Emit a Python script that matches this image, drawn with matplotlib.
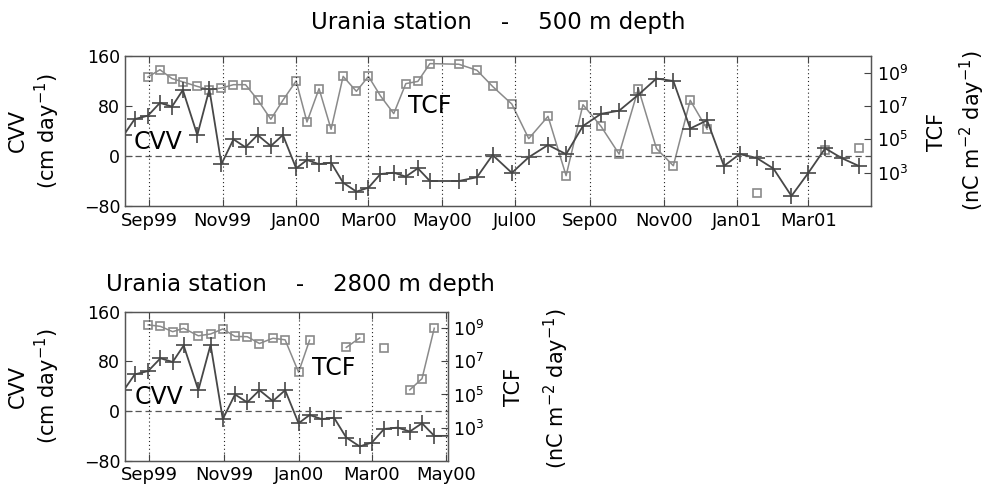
import numpy as np
import matplotlib
matplotlib.use("Agg")
import matplotlib.pyplot as plt
import matplotlib.dates as mdates
from datetime import datetime

# ---------------- data ----------------
dates = ["1999-08-11", "1999-08-20", "1999-08-31", "1999-09-10", "1999-09-20",
         "1999-09-29", "1999-10-11", "1999-10-21", "1999-10-31", "1999-11-10",
         "1999-11-20", "1999-11-30", "1999-12-11", "1999-12-21", "2000-01-01",
         "2000-01-10", "2000-01-20", "2000-01-30", "2000-02-09", "2000-02-20",
         "2000-03-01", "2000-03-11", "2000-03-22", "2000-04-01", "2000-04-11",
         "2000-04-21", "2000-05-15", "2000-05-30", "2000-06-12", "2000-06-28",
         "2000-07-12", "2000-07-28", "2000-08-12", "2000-08-26", "2000-09-10",
         "2000-09-25", "2000-10-11", "2000-10-26", "2000-11-09", "2000-11-23",
         "2000-12-07", "2000-12-21", "2001-01-03", "2001-01-17", "2001-01-31",
         "2001-02-15", "2001-03-01", "2001-03-15", "2001-03-29", "2001-04-12"]

cvv = [33.6, 59, 64.5, 85, 79, 105.6, 33.6, 106.7, -13, 26.7,
       14, 33.6, 16, 33.6, -19.7, -6.4, -13, -10.7, -42.7, -57,
       -50.7, -28.8, -26.7, -33, -19.7, -40, -40, -34, 1.6, -27,
       -2, 17.6, 3, 48, 67.5, 72.5, 98, 124, 120, 44,
       57, -16, 3, -3, -20, -64, -27, 12.3, -3.7, -16]

nan = float("nan")
tcf_500 = [nan, nan, 5.5e8, 1.5e9, 4.4e8, 2.8e8, 1.5e8, 9.5e7, 1.2e8, 1.9e8,
           1.9e8, 2.4e7, 1.6e6, 2.2e7, 3.2e8, 1.1e6, 1.1e8, 4.0e5, 6.0e8, 7.6e7,
           6.0e8, 4.0e7, 3.5e6, 2.2e8, 3.0e8, 3.5e9, 3.2e9, 1.4e9, 1.5e8, 1.3e7,
           1.1e5, 2.4e6, 6.6e2, 1.2e7, 6.0e5, 1.3e4, 1.1e8, 2.8e4, 2.6e3, 2.2e7,
           4.1e5, nan, nan, 63, nan, nan, nan, 2.2e4, nan, 3.2e4]

tcf_2800 = [nan, nan, 1.6e9, 1.3e9, 6.2e8, 1.0e9, 3.5e8, 4.5e8, 9.1e8, 3.2e8,
            3.1e8, 1.2e8, 2.5e8, 2.0e8, 2.2e6, 1.9e8, nan, nan, 6.9e7, 2.6e8,
            nan, 6.2e7, nan, 1.9e5, 9.1e5, 1.0e9, nan, nan, nan, nan,
            nan, nan, nan, nan, nan, nan, nan, nan, nan, nan,
            nan, nan, nan, nan, nan, nan, nan, nan, nan, nan]

cvv_ticks = [-80, 0, 80, 160]
tcf_ticks = [1e3, 1e5, 1e7, 1e9]
title_top = "Urania station    -    500 m depth"
title_bot = "Urania station    -    2800 m depth"

x = [datetime.strptime(d, "%Y-%m-%d") for d in dates]

# ---------------- figure ----------------
W, H = 990, 495
fig = plt.figure(figsize=(W / 100, H / 100), dpi=100)

def px_rect(l, t, r, b):
    return [l / W, 1 - b / H, (r - l) / W, (b - t) / H]

CVV_COL = "#474747"
TCF_COL = "#8a8a8a"


def make_panel(rect, xlim, tcf, cvv_lab_pos, tcf_lab_pos):
    ax = fig.add_axes(rect)
    tw = ax.twinx()
    ax.set_zorder(tw.get_zorder() + 1)
    ax.patch.set_visible(False)

    tw.plot(x, tcf, color=TCF_COL, lw=1.1, marker="s", ms=5.5,
            mfc="none", mec=TCF_COL, mew=1.2)
    ax.plot(x, cvv, color=CVV_COL, lw=1.3, marker="+", ms=11, mew=1.2)
    ax.axhline(0, color="#555555", lw=0.9, ls=(0, (5, 3)))

    ax.set_xlim(*xlim)
    ax.set_ylim(-80, 160)
    ax.set_yticks(cvv_ticks)
    tw.set_yscale("log")
    tw.set_ylim(1e1, 1e10)
    tw.set_yticks(tcf_ticks)
    tw.yaxis.set_minor_locator(matplotlib.ticker.NullLocator())

    ax.xaxis.set_major_locator(mdates.MonthLocator(bymonth=[1, 3, 5, 7, 9, 11]))
    ax.xaxis.set_major_formatter(mdates.DateFormatter("%b%y"))
    ax.grid(axis="x", color="#222222", ls=(0, (1, 2.5)), lw=0.8)

    ax.tick_params(axis="x", direction="in", top=True, length=5,
                   labelsize=13, pad=4, color="#444444")
    ax.tick_params(axis="y", direction="in", length=5, labelsize=12.5,
                   right=False, color="#444444")
    tw.tick_params(axis="y", direction="in", length=5, labelsize=12.5,
                   color="#444444", pad=4)
    for a in (ax, tw):
        for s in a.spines.values():
            s.set_color("#555555")
            s.set_linewidth(0.9)

    ax.text(cvv_lab_pos[0], cvv_lab_pos[1], "CVV", transform=ax.transAxes,
            fontsize=17, ha="left", va="center")
    ax.text(tcf_lab_pos[0], tcf_lab_pos[1], "TCF", transform=ax.transAxes,
            fontsize=17, ha="left", va="center")
    return ax, tw


# top panel
make_panel(px_rect(125, 56, 871, 206),
           (datetime(1999, 8, 12), datetime(2001, 4, 22)),
           tcf_500, (0.011, 0.427), (0.379, 0.667))
fig.text(498 / W, 1 - 22 / H, title_top, fontsize=16.5, ha="center", va="center")
fig.text(18 / W, 1 - 131 / H, "CVV", rotation=90, fontsize=15, ha="center", va="center")
fig.text(47 / W, 1 - 131 / H, "(cm day$^{-1}$)", rotation=90, fontsize=15,
         ha="center", va="center")
fig.text(937 / W, 1 - 132 / H, "TCF", rotation=90, fontsize=15, ha="center", va="center")
fig.text(972 / W, 1 - 130 / H, "(nC m$^{-2}$ day$^{-1}$)", rotation=90, fontsize=15,
         ha="center", va="center")

# bottom panel
make_panel(px_rect(125, 311.7, 447.7, 460.7),
           (datetime(1999, 8, 12), datetime(2000, 5, 2)),
           tcf_2800, (0.031, 0.428), (0.579, 0.622))
fig.text(300 / W, 1 - 284 / H, title_bot, fontsize=16.5, ha="center", va="center")
fig.text(18 / W, 1 - 386 / H, "CVV", rotation=90, fontsize=15, ha="center", va="center")
fig.text(47 / W, 1 - 386 / H, "(cm day$^{-1}$)", rotation=90, fontsize=15,
         ha="center", va="center")
fig.text(514 / W, 1 - 387 / H, "TCF", rotation=90, fontsize=15, ha="center", va="center")
fig.text(556 / W, 1 - 388 / H, "(nC m$^{-2}$ day$^{-1}$)", rotation=90, fontsize=15,
         ha="center", va="center")

fig.savefig("out.png", dpi=100)
